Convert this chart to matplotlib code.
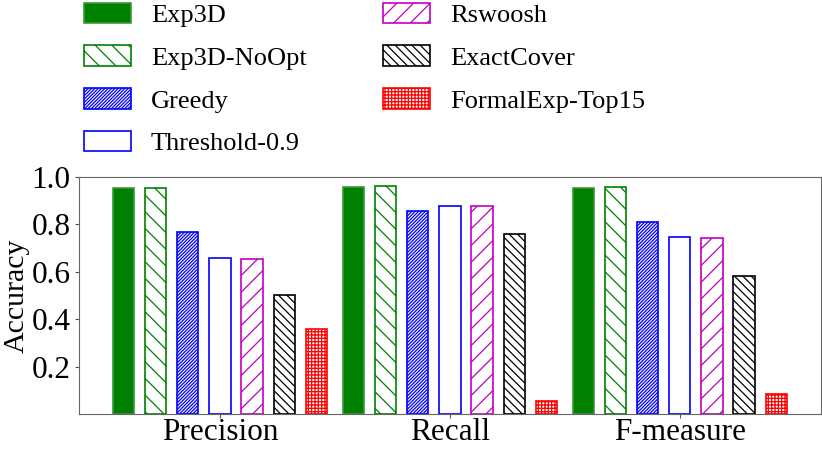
import numpy as np
import matplotlib
matplotlib.use('agg')
import matplotlib.pyplot as plt

plt.rcParams['font.family'] = ['Liberation Serif', 'DejaVu Serif']
plt.rcParams['hatch.linewidth'] = 0.9

metrics = ['Precision', 'Recall', 'F-measure']
methods = ['Exp3D', 'Exp3D-NoOpt', 'Greedy', 'Threshold-0.9',
           'Rswoosh', 'ExactCover', 'FormalExp-Top15']

exp3d = [0.955, 0.957, 0.955]
exp3d_noopt = [0.955, 0.960, 0.957]
greedy = [0.767, 0.858, 0.810]
threshold = [0.657, 0.878, 0.745]
rswoosh = [0.653, 0.877, 0.742]
exactcover = [0.500, 0.761, 0.583]
formalexp = [0.357, 0.053, 0.086]

values = [exp3d, exp3d_noopt, greedy, threshold, rswoosh, exactcover, formalexp]

# (face, edge, hatch)
styles = [
    ('green', '#3a9a3a', ''),
    ('white', 'green', '\\\\'),
    ('white', 'blue', '//////////'),
    ('white', 'blue', ''),
    ('white', 'm', '//'),
    ('white', 'black', '\\\\\\\\'),
    ('white', 'red', '+++++'),
]

fig = plt.figure(figsize=(8.22, 4.5), dpi=100)
ax = fig.add_axes([0.096, 0.08, 0.9025, 0.527])

x = np.arange(len(metrics))
step = 0.14
width = 0.093

for i, (name, vals) in enumerate(zip(methods, values)):
    face, edge, hatch = styles[i]
    ax.bar(x + (i - 3) * step, vals, width, label=name, color=face,
           edgecolor=edge, hatch=hatch, linewidth=1.2)

ax.set_xlim(-0.613, 2.613)
ax.set_ylim(0, 1.0)
ax.set_yticks([0.2, 0.4, 0.6, 0.8, 1.0])
ax.set_yticklabels(['0.2', '0.4', '0.6', '0.8', '1.0'])
ax.set_xticks(x)
ax.set_xticklabels(metrics)
ax.set_ylabel('Accuracy', fontsize=21.5, labelpad=1)
ax.tick_params(axis='both', labelsize=22.5, length=3, color='#555555')
ax.tick_params(axis='x', pad=0)
ax.tick_params(axis='y', pad=3)
for sp in ax.spines.values():
    sp.set_color('#666666')

fig.legend(loc='upper left', bbox_to_anchor=(0.073, 1.047), ncol=2,
           frameon=False, fontsize=19, handlelength=1.78, handleheight=0.83,
           labelspacing=0.69, columnspacing=2.9, handletextpad=0.76)

fig.savefig('out.png', dpi=100)
